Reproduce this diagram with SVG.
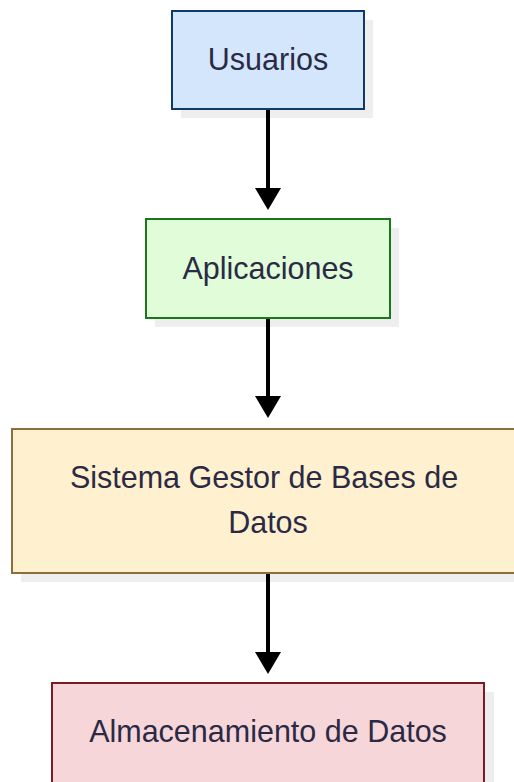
<svg xmlns="http://www.w3.org/2000/svg" width="514" height="782" viewBox="0 0 514 782">
<style>
.shadow{fill:#eeeeee;}
.box{stroke-width:2;}
.lbl{font-family:"Liberation Sans",Arial,sans-serif;font-size:30.5px;fill:#2b2a45;text-anchor:middle;}
.edge{stroke:#000;stroke-width:4;fill:none;}
.head{fill:#000;}
</style>
<rect width="514" height="782" fill="#fff"/>
<g id="usuarios">
<rect class="shadow" x="181" y="20" width="192" height="98"/>
<rect class="box" x="172" y="11" width="192" height="98" fill="#d3e6fc" stroke="#0e3a6a"/>
<text class="lbl" x="268" y="70">Usuarios</text>
</g>
<g id="aplicaciones">
<rect class="shadow" x="155" y="228" width="244" height="99"/>
<rect class="box" x="146" y="219" width="244" height="99" fill="#e0fcd9" stroke="#19781a"/>
<text class="lbl" x="268" y="279">Aplicaciones</text>
</g>
<g id="sgbd">
<rect class="shadow" x="21" y="438" width="512" height="144"/>
<rect class="box" x="12" y="429" width="512" height="144" fill="#fff1cf" stroke="#8b6e3c"/>
<text class="lbl" x="264" y="488">Sistema Gestor de Bases de</text>
<text class="lbl" x="268" y="533">Datos</text>
</g>
<g id="almacenamiento">
<rect class="shadow" x="61" y="692" width="433" height="100"/>
<rect class="box" x="52" y="683" width="432" height="110" fill="#f7d6da" stroke="#7a1c24"/>
<text class="lbl" x="268" y="742">Almacenamiento de Datos</text>
</g>
<g id="connectors">
<line class="edge" x1="268" y1="110" x2="268" y2="190"/>
<path class="head" d="M255,188 L281,188 L268,210 Z"/>
<line class="edge" x1="268" y1="319" x2="268" y2="398"/>
<path class="head" d="M255,396 L281,396 L268,418 Z"/>
<line class="edge" x1="268" y1="574" x2="268" y2="654"/>
<path class="head" d="M255,652 L281,652 L268,674 Z"/>
</g>
</svg>
